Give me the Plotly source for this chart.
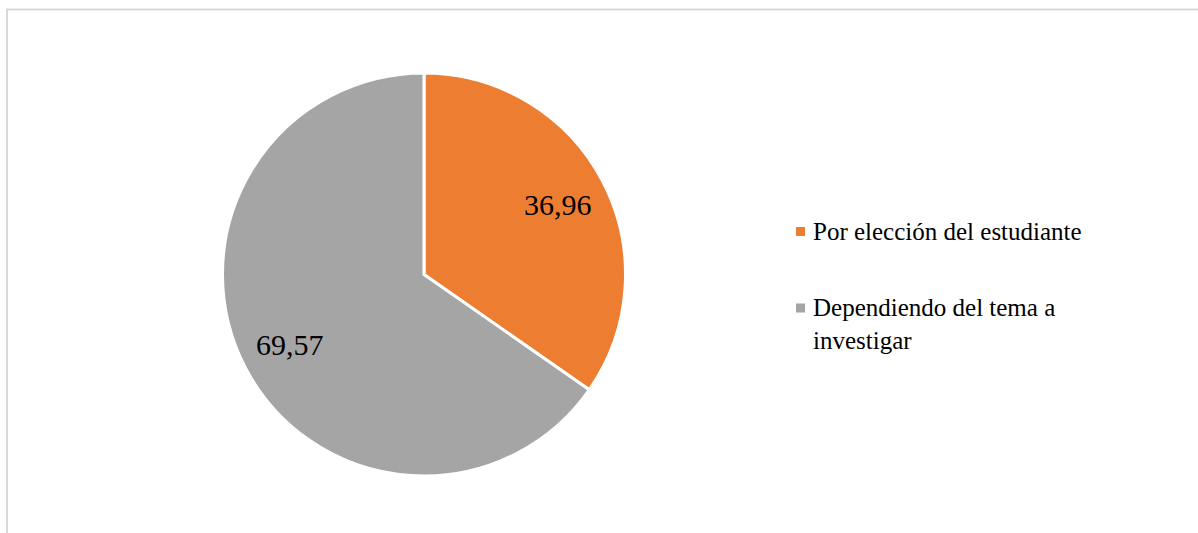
import math
import plotly.graph_objects as go

labels = ["Por elección del estudiante", "Dependiendo del tema a investigar"]
legend_text = ["Por elección del estudiante", "Dependiendo del tema a<br>investigar"]
values = [36.96, 69.57]
value_text = ["36,96", "69,57"]
colors = ["#ED7D31", "#A5A5A5"]

W, H = 1198, 533
FONT = "Tinos, 'Liberation Serif', 'Times New Roman', Times, 'DejaVu Serif', serif"

# pie placement in pixels
cx, cy, R = 424, 274.5, 201.5

fig = go.Figure(go.Pie(
    labels=labels,
    values=values,
    sort=False,
    direction="clockwise",
    rotation=0,
    marker=dict(colors=colors, line=dict(color="white", width=3)),
    textinfo="none",
    hoverinfo="label+value",
    showlegend=False,
    domain=dict(x=[(cx - R) / W, (cx + R) / W], y=[1 - (cy + R) / H, 1 - (cy - R) / H]),
))

annotations = []
# value labels along each slice's mid-angle
total = sum(values)
start = 0.0
for v, t in zip(values, value_text):
    frac = v / total
    mid = (start + frac / 2) * 2 * math.pi
    start += frac
    r = 0.75 * R
    px = cx + r * math.sin(mid)
    py = cy - r * math.cos(mid)
    annotations.append(dict(
        x=px / W, y=1 - py / H, xref="paper", yref="paper",
        text=t, showarrow=False, xanchor="center", yanchor="middle",
        font=dict(family=FONT, size=30, color="#000000"),
    ))

# legend drawn to the right of the pie
shapes = []
legend_y = [231.5, 324]
marker_y = [231.5, 308]
for txt, col, ly, my in zip(legend_text, colors, legend_y, marker_y):
    shapes.append(dict(
        type="rect", xref="paper", yref="paper",
        x0=796 / W, x1=805 / W, y0=1 - (my + 4.5) / H, y1=1 - (my - 4.5) / H,
        fillcolor=col, line=dict(width=0),
    ))
    annotations.append(dict(
        x=811 / W, y=1 - ly / H, xref="paper", yref="paper",
        text=txt, showarrow=False, xanchor="left", yanchor="middle", align="left",
        font=dict(family=FONT, size=25, color="#000000"),
    ))

# chart area frame
shapes.append(dict(
    type="rect", xref="paper", yref="paper",
    x0=7 / W, x1=1.02, y0=-0.05, y1=1 - 9.5 / H,
    line=dict(color="#D9D9D9", width=2), fillcolor="rgba(0,0,0,0)",
))

fig.update_layout(
    width=W, height=H,
    margin=dict(l=0, r=0, t=0, b=0),
    paper_bgcolor="white",
    plot_bgcolor="white",
    font=dict(family=FONT),
    annotations=annotations,
    shapes=shapes,
)

fig.write_html("out.html")
